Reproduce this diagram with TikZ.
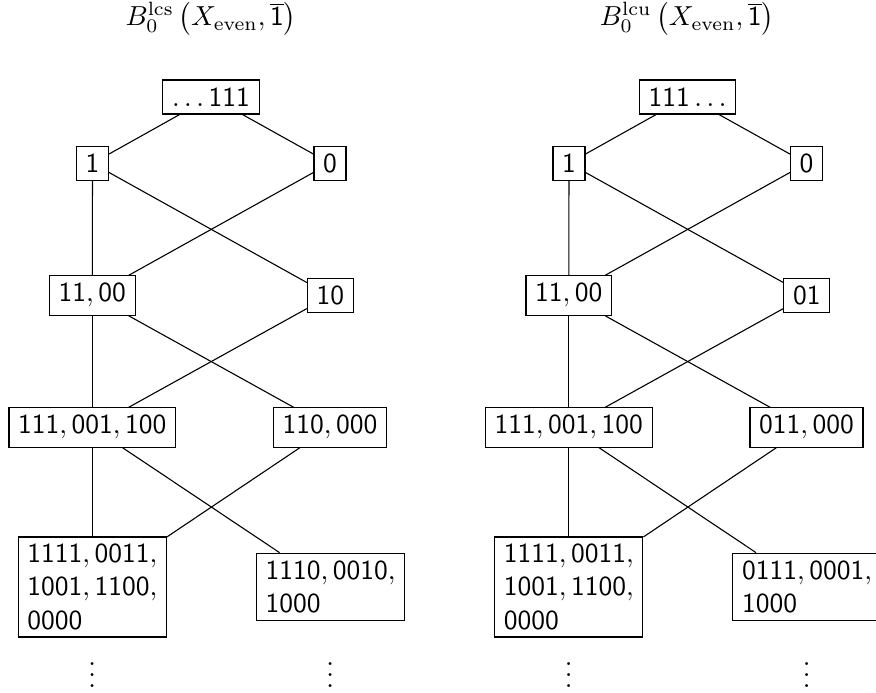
\documentclass[tikz,border=0pt]{standalone}
\begin{document}
\begin{tikzpicture}[x=0.3636pt,y=-0.3636pt,
  box/.style={draw, inner xsep=3.33pt, inner ysep=2.9pt},
  mbox/.style={box, align=left},
  ttl/.style={inner sep=0pt},
  edge/.style={line width=0.4pt}]
\useasboundingbox (0,0) rectangle (876,693);
\clip (0,0) rectangle (876,693);
% ---------- left diagram ----------
\node[ttl] (Lt) at (211,19) {$B_0^{\mathrm{lcs}}\left(X_{\mathrm{even}},\overline{\mathsf{1}}\right)$};
\node[box] (Ltop) at (211,97) {$\mathsf{\ldots111}$};
\node[box] (L1) at (92.5,163.3) {$\mathsf{1}$};
\node[box] (L0) at (330,163.3) {$\mathsf{0}$};
\node[box] (L1100) at (92.3,295.6) {$\mathsf{11,00}$};
\node[box] (L10) at (330.3,295.6) {$\mathsf{10}$};
\node[box] (La) at (92.3,427.5) {$\mathsf{111,001,100}$};
\node[box] (Lb) at (330,427.5) {$\mathsf{110,000}$};
\node[mbox] (Lc) at (92.3,587) {$\mathsf{1111,0011,}$\\$\mathsf{1001,1100,}$\\$\mathsf{0000}$};
\node[mbox] (Ld) at (330.5,586.7) {$\mathsf{1110,0010,}$\\$\mathsf{1000}$};
\node[ttl] (Lv1) at (92.3,667) {$\vdots$};
\node[ttl] (Lv2) at (330.3,667) {$\vdots$};
\draw[edge] (Ltop) -- (L1);
\draw[edge] (Ltop) -- (L0);
\draw[edge] (L1) -- (L1100);
\draw[edge] (L1) -- (L10);
\draw[edge] (L0) -- (L1100);
\draw[edge] (L1100) -- (La);
\draw[edge] (L1100) -- (Lb);
\draw[edge] (L10) -- (La);
\draw[edge] (La) -- (Lc);
\draw[edge] (La) -- (Ld);
\draw[edge] (Lb) -- (Lc);
% ---------- right diagram ----------
\node[ttl] (Rt) at (687,19) {$B_0^{\mathrm{lcu}}\left(X_{\mathrm{even}},\overline{\mathsf{1}}\right)$};
\node[box] (Rtop) at (687.5,97) {$\mathsf{111\ldots}$};
\node[box] (R1) at (569,163.3) {$\mathsf{1}$};
\node[box] (R0) at (806.5,163.3) {$\mathsf{0}$};
\node[box] (R1100) at (568.8,295.6) {$\mathsf{11,00}$};
\node[box] (R01) at (806.8,295.6) {$\mathsf{01}$};
\node[box] (Ra) at (568.8,427.5) {$\mathsf{111,001,100}$};
\node[box] (Rb) at (806.5,427.5) {$\mathsf{011,000}$};
\node[mbox] (Rc) at (568.8,587) {$\mathsf{1111,0011,}$\\$\mathsf{1001,1100,}$\\$\mathsf{0000}$};
\node[mbox] (Rd) at (807,586.7) {$\mathsf{0111,0001,}$\\$\mathsf{1000}$};
\node[ttl] (Rv1) at (568.8,667) {$\vdots$};
\node[ttl] (Rv2) at (806.8,667) {$\vdots$};
\draw[edge] (Rtop) -- (R1);
\draw[edge] (Rtop) -- (R0);
\draw[edge] (R1) -- (R1100);
\draw[edge] (R1) -- (R01);
\draw[edge] (R0) -- (R1100);
\draw[edge] (R1100) -- (Ra);
\draw[edge] (R1100) -- (Rb);
\draw[edge] (R01) -- (Ra);
\draw[edge] (Ra) -- (Rc);
\draw[edge] (Ra) -- (Rd);
\draw[edge] (Rb) -- (Rc);
\end{tikzpicture}
\end{document}
